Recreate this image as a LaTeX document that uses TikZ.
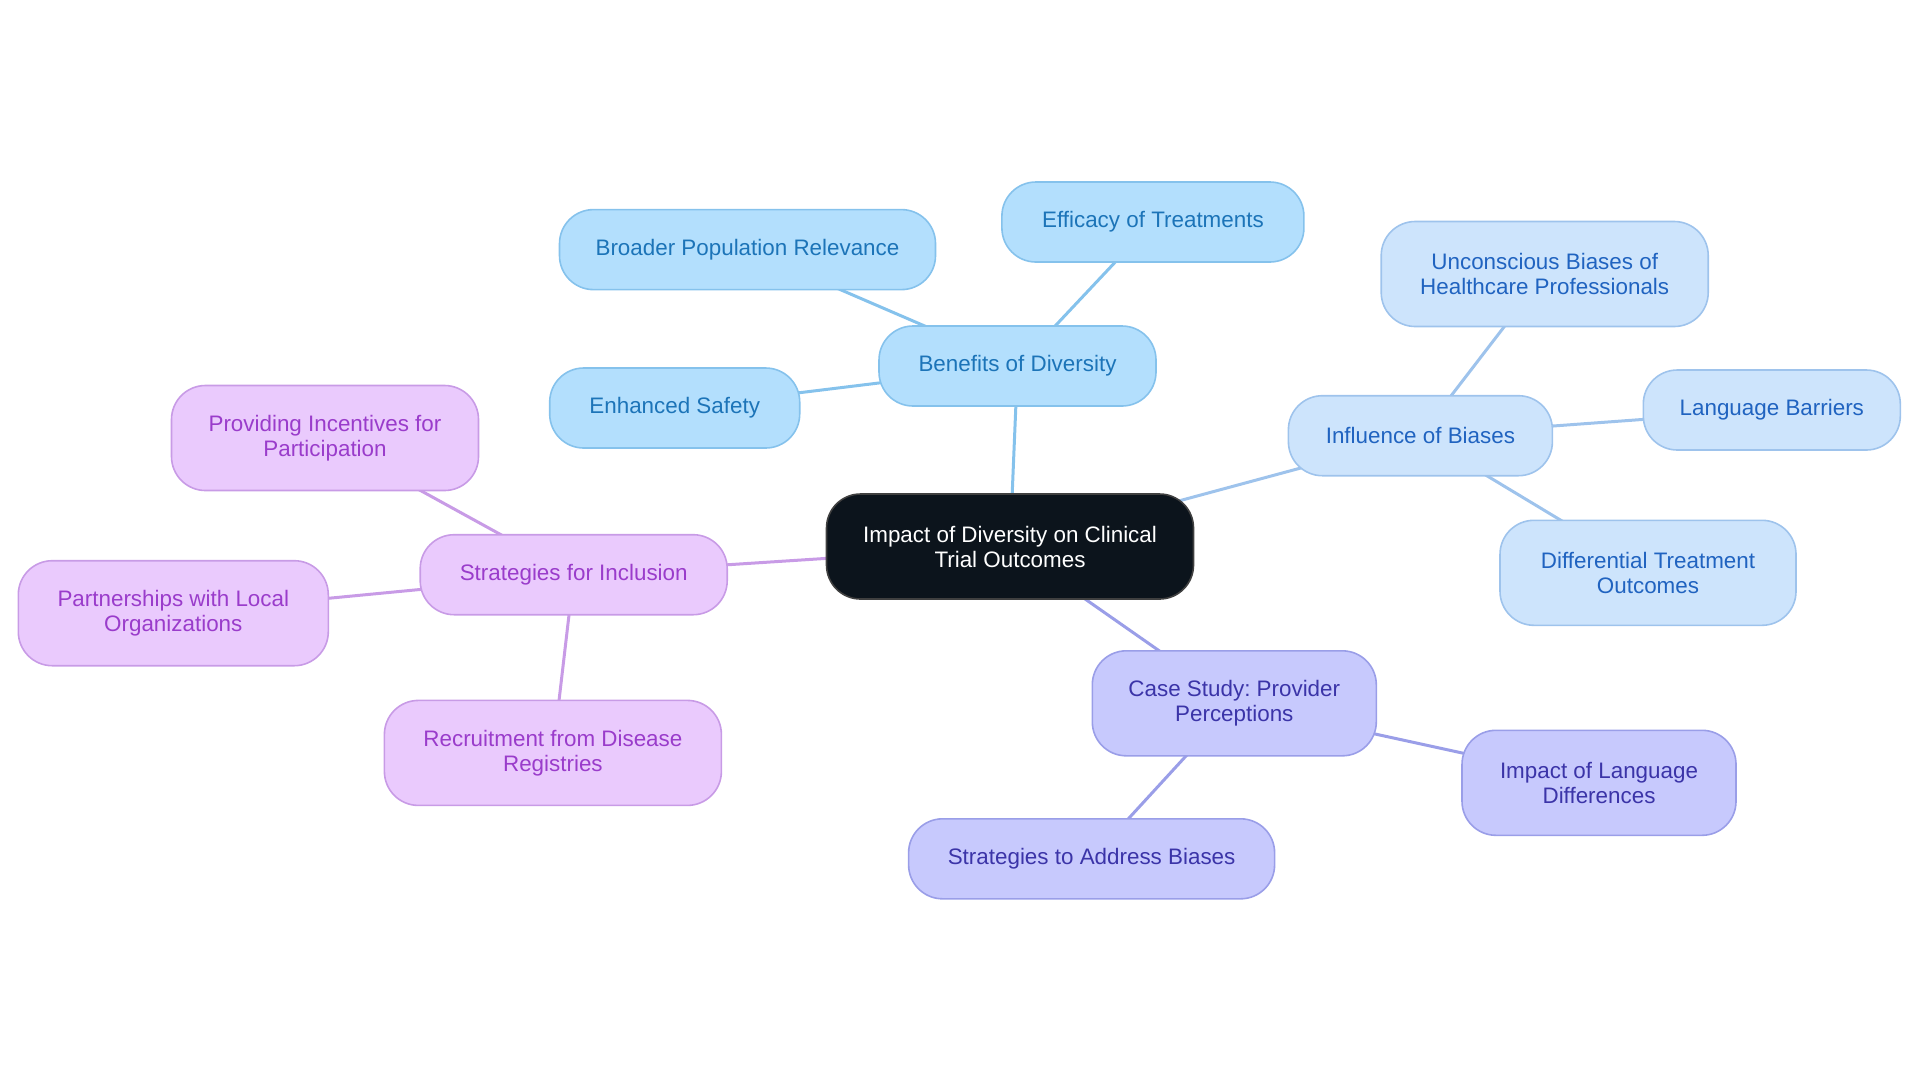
\documentclass[tikz,border=0pt]{standalone}
\usepackage{fontspec}
\setmainfont{Liberation Sans}
\usetikzlibrary{backgrounds}
\frenchspacing

\definecolor{rootfill}{HTML}{0C141C}
\definecolor{benfill}{HTML}{B3DFFD}
\definecolor{bendraw}{HTML}{85C2EC}
\definecolor{bentext}{HTML}{1C74B8}
\definecolor{biafill}{HTML}{CDE4FC}
\definecolor{biadraw}{HTML}{9EC3EC}
\definecolor{biatext}{HTML}{2063C0}
\definecolor{casfill}{HTML}{C7C9FD}
\definecolor{casdraw}{HTML}{9A9EE8}
\definecolor{castext}{HTML}{3B34A8}
\definecolor{incfill}{HTML}{EACAFD}
\definecolor{incdraw}{HTML}{C89BE6}
\definecolor{inctext}{HTML}{9A3CCB}

\tikzset{
  box/.style={draw, rounded corners=17pt, line width=0.8pt, align=center,
    inner sep=0pt, minimum height=40pt, font=\fontsize{11.2}{12.5}\selectfont},
  tall/.style={minimum height=52.5pt},
  rootbox/.style={box, fill=rootfill, draw=black!75, text=white},
  benbox/.style={box, fill=benfill, draw=bendraw, text=bentext},
  biabox/.style={box, fill=biafill, draw=biadraw, text=biatext},
  casbox/.style={box, fill=casfill, draw=casdraw, text=castext},
  incbox/.style={box, fill=incfill, draw=incdraw, text=inctext},
  link/.style={line width=1.5pt}
}

\begin{document}
\begin{tikzpicture}[x=0.5pt, y=-0.5pt]
  \useasboundingbox (0,0) rectangle (1920,1083);

  % centre
  \node[rootbox, tall, minimum width=183.5pt] (root) at (1010,546.5) {Impact of Diversity on Clinical\\Trial Outcomes};

  % benefits
  \node[benbox, minimum width=138.5pt] (benefits) at (1017.5,366) {Benefits of Diversity};
  \node[benbox, minimum width=188pt] (broader) at (747.5,249.6) {Broader Population Relevance};
  \node[benbox, minimum width=151pt] (efficacy) at (1152.9,222) {Efficacy of Treatments};
  \node[benbox, minimum width=125pt] (safety) at (674.7,408) {Enhanced Safety};

  % biases
  \node[biabox, minimum width=132pt] (biases) at (1420.4,435.7) {Influence of Biases};
  \node[biabox, tall, minimum width=163.5pt] (unconscious) at (1544.7,274) {Unconscious Biases of\\Healthcare Professionals};
  \node[biabox, minimum width=128.5pt] (barriers) at (1771.8,410) {Language Barriers};
  \node[biabox, tall, minimum width=148pt] (differential) at (1648,572.8) {Differential Treatment\\Outcomes};

  % case study
  \node[casbox, tall, minimum width=142pt] (casestudy) at (1234.3,703.3) {Case Study: Provider\\Perceptions};
  \node[casbox, tall, minimum width=137pt] (langdiff) at (1599,782.8) {Impact of Language\\Differences};
  \node[casbox, minimum width=183pt] (address) at (1091.6,858.8) {Strategies to Address Biases};

  % inclusion
  \node[incbox, minimum width=153.5pt] (inclusion) at (573.7,574.7) {Strategies for Inclusion};
  \node[incbox, tall, minimum width=153.5pt] (incentives) at (325,438) {Providing Incentives for\\Participation};
  \node[incbox, tall, minimum width=155pt] (partners) at (173.3,613.2) {Partnerships with Local\\Organizations};
  \node[incbox, tall, minimum width=168.5pt] (registries) at (552.9,752.9) {Recruitment from Disease\\Registries};

  \begin{scope}[on background layer]
    \draw[link, bendraw] (root.center) -- (benefits.center);
    \draw[link, bendraw] (benefits.center) -- (broader.center);
    \draw[link, bendraw] (benefits.center) -- (efficacy.center);
    \draw[link, bendraw] (benefits.center) -- (safety.center);

    \draw[link, biadraw] (root.center) -- (biases.center);
    \draw[link, biadraw] (biases.center) -- (unconscious.center);
    \draw[link, biadraw] (biases.center) -- (barriers.center);
    \draw[link, biadraw] (biases.center) -- (differential.center);

    \draw[link, casdraw] (root.center) -- (casestudy.center);
    \draw[link, casdraw] (casestudy.center) -- (langdiff.center);
    \draw[link, casdraw] (casestudy.center) -- (address.center);

    \draw[link, incdraw] (root.center) -- (inclusion.center);
    \draw[link, incdraw] (inclusion.center) -- (incentives.center);
    \draw[link, incdraw] (inclusion.center) -- (partners.center);
    \draw[link, incdraw] (inclusion.center) -- (registries.center);
  \end{scope}
\end{tikzpicture}
\end{document}
